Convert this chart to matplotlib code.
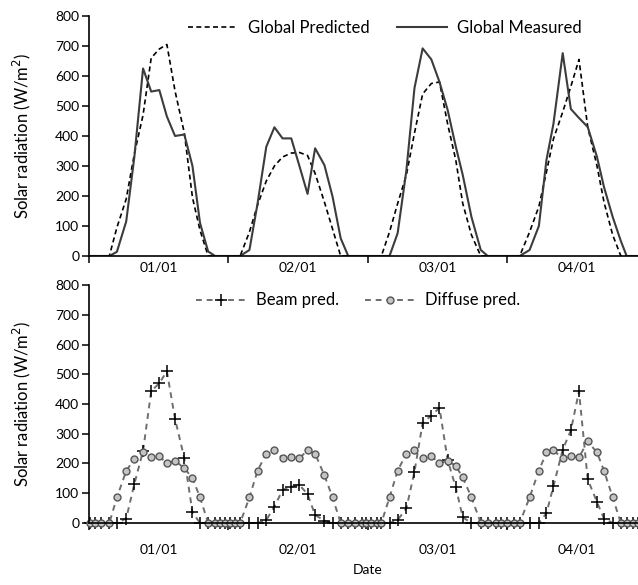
import matplotlib
matplotlib.use('Agg')
import matplotlib.pyplot as plt
from matplotlib.ticker import FixedLocator, NullFormatter

plt.rcParams['font.family'] = ['Lato', 'DejaVu Sans']

# Czas (godziny od 01/01 00:00) dla kolejnych punktow pomiarowych
hours = [0.2, 1.0, 2.1, 3.5, 4.8, 6.4, 7.8, 9.3, 10.7, 12.1, 13.4, 14.8, 16.4, 17.8,
         19.1, 20.5, 21.7, 22.6, 23.4, 24.3, 25.2, 26.0, 27.6, 29.0, 30.5, 31.9,
         33.3, 34.8, 36.2, 37.6, 38.9, 40.5, 41.9, 43.3, 44.6, 45.8, 46.9, 47.7,
         48.6, 49.5, 50.3, 51.7, 53.1, 54.6, 56.0, 57.4, 58.9, 60.3, 61.7, 63.1,
         64.3, 65.8, 67.4, 68.6, 70.0, 70.8, 71.9, 73.1, 74.1, 75.8, 77.4, 78.7,
         79.9, 81.5, 82.9, 84.3, 85.8, 87.4, 88.6, 90.1, 91.5, 92.5, 93.6, 94.4]

global_pred = [0, 0, 0, 0, 95, 190, 340, 470, 660, 690, 705, 550, 410, 195,
               86, 0, 0, 0, 0, 0, 0, 0, 80, 170, 250, 300,
               330, 343, 345, 335, 275, 180, 90, 0, 0, 0, 0, 0,
               0, 0, 0, 80, 175, 270, 410, 540, 575, 580, 440, 320,
               175, 70, 0, 0, 0, 0, 0, 0, 0, 80, 165, 280,
               390, 480, 565, 655, 430, 300, 180, 70, 0, 0, 0, 0]

global_meas = [0, 0, 0, 0, 14, 115, 330, 625, 548, 553, 465, 400, 405, 300,
               110, 15, 0, 0, 0, 0, 0, 0, 20, 175, 364, 429,
               392, 392, 300, 207, 359, 303, 198, 59, 0, 0, 0, 0,
               0, 0, 0, 0, 76, 285, 560, 692, 655, 580, 487, 365,
               270, 130, 20, 0, 0, 0, 0, 0, 0, 20, 100, 320,
               440, 676, 490, 460, 430, 330, 230, 130, 50, 0, 0, 0]

beam_pred = [0, 0, 0, 0, 0, 15, 131, 242, 443, 470, 510, 350, 218, 36,
             0, 0, 0, 0, 0, 0, 0, 0, 0, 0, 10, 55,
             111, 122, 128, 97, 27, 8, 0, 0, 0, 0, 0, 0,
             0, 0, 0, 0, 10, 49, 173, 336, 361, 387, 212, 120,
             19, 0, 0, 0, 0, 0, 0, 0, 0, 0, 0, 33,
             123, 247, 311, 443, 147, 70, 15, 0, 0, 0, 0, 0]

diffuse_pred = [0, 0, 0, 0, 86, 175, 215, 240, 221, 224, 201, 209, 184, 151,
                86, 0, 0, 0, 0, 0, 0, 0, 86, 176, 233, 244,
                218, 221, 218, 244, 233, 160, 86, 0, 0, 0, 0, 0,
                0, 0, 0, 86, 176, 233, 244, 218, 224, 201, 209, 192,
                153, 86, 0, 0, 0, 0, 0, 0, 0, 86, 176, 237,
                244, 218, 224, 221, 274, 237, 176, 86, 0, 0, 0, 0]

day_edges = [0, 24, 48, 72, 96]
day_centers = [12, 36, 60, 84]
day_labels = ['01/01', '02/01', '03/01', '04/01']
y_ticks = [0, 100, 200, 300, 400, 500, 600, 700, 800]

fig = plt.figure(figsize=(6.38, 5.85), dpi=100)
ax1 = fig.add_axes([0.1395, 0.5624, 0.8746, 0.4103])
ax2 = fig.add_axes([0.1395, 0.1060, 0.8746, 0.4068])

ax1.plot(hours, global_pred, color='black', linestyle=(0, (3, 2)), linewidth=1.2,
         label='Global Predicted')
ax1.plot(hours, global_meas, color='#3c3c3c', linewidth=1.5, label='Global Measured')

ax2.plot(hours, beam_pred, color='#6e6e6e', linestyle=(0, (3, 2.5)), linewidth=1.4,
         marker='+', markersize=9, markeredgewidth=1.1, markeredgecolor='black',
         label='Beam pred.', clip_on=False)
ax2.plot(hours, diffuse_pred, color='#6e6e6e', linestyle=(0, (3, 2.5)), linewidth=1.4,
         marker='o', markersize=5, markerfacecolor='#c4c4c4', markeredgecolor='#555555',
         markeredgewidth=1.0, label='Diffuse pred.', clip_on=False)

for ax in (ax1, ax2):
    ax.set_xlim(0, 96)
    ax.set_ylim(0, 800)
    ax.set_yticks(y_ticks)
    ax.spines['top'].set_visible(False)
    ax.spines['right'].set_visible(False)
    ax.spines['left'].set_linewidth(1.2)
    ax.spines['bottom'].set_linewidth(1.2)
    ax.xaxis.set_major_locator(FixedLocator(day_edges))
    ax.xaxis.set_major_formatter(NullFormatter())
    ax.xaxis.set_minor_locator(FixedLocator(day_centers))
    ax.set_xticklabels(day_labels, minor=True)
    ax.tick_params(axis='x', which='minor', length=0, labelsize=10)
    ax.tick_params(axis='x', which='major', length=5, width=1.1, direction='out')
    ax.tick_params(axis='y', length=5, width=1.1, direction='out', labelsize=10, pad=2)
    ax.set_ylabel('Solar radiation (W/m$^2$)', fontsize=12, labelpad=16)

ax1.tick_params(axis='x', which='minor', pad=4)
ax2.tick_params(axis='x', which='minor', pad=15)
ax2.set_xlabel('Date', fontsize=10, labelpad=6)

ax1.legend(loc='center', bbox_to_anchor=(0.53, 0.95), ncol=2, frameon=False,
           fontsize=12, handlelength=3.0, columnspacing=1.6, handletextpad=0.6)
ax2.legend(loc='center', bbox_to_anchor=(0.482, 0.935), ncol=2, frameon=False,
           fontsize=12, handlelength=3.0, columnspacing=1.6, handletextpad=0.6,
           numpoints=1)

plt.savefig('out.png', dpi=100)
